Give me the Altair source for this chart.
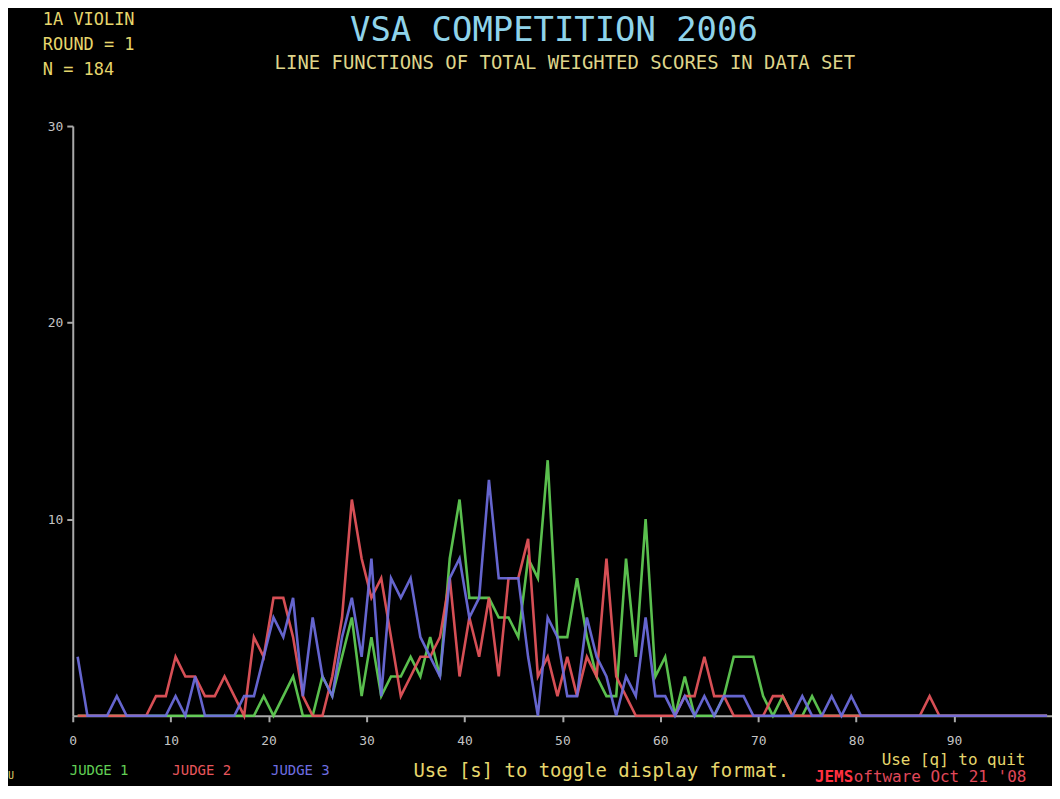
import altair as alt
import pandas as pd

# score bins (bin centres) 0.5 .. 99.5
score_bins = [k + 0.5 for k in range(100)]

judge1 = [
    0, 0, 0, 0, 0, 0, 0, 0, 0, 0,
    0, 0, 0, 0, 0, 0, 0, 0, 0, 1,
    0, 1, 2, 0, 0, 2, 1, 3, 5, 1,
    4, 1, 2, 2, 3, 2, 4, 2, 8, 11,
    6, 6, 6, 5, 5, 4, 8, 7, 13, 4,
    4, 7, 4, 2, 1, 1, 8, 3, 10, 2,
    3, 0, 2, 0, 0, 0, 1, 3, 3, 3,
    1, 0, 1, 0, 0, 1, 0, 0, 0, 0,
    0, 0, 0, 0, 0, 0, 0, 0, 0, 0,
    0, 0, 0, 0, 0, 0, 0, 0, 0, 0,
]
judge2 = [
    0, 0, 0, 0, 0, 0, 0, 0, 1, 1,
    3, 2, 2, 1, 1, 2, 1, 0, 4, 3,
    6, 6, 4, 1, 0, 0, 2, 5, 11, 8,
    6, 7, 4, 1, 2, 3, 3, 4, 7, 2,
    5, 3, 6, 2, 7, 7, 9, 2, 3, 1,
    3, 1, 3, 2, 8, 2, 1, 0, 0, 0,
    0, 0, 1, 1, 3, 1, 1, 0, 0, 0,
    0, 1, 1, 0, 0, 0, 0, 0, 0, 0,
    0, 0, 0, 0, 0, 0, 0, 1, 0, 0,
    0, 0, 0, 0, 0, 0, 0, 0, 0, 0,
]
judge3 = [
    3, 0, 0, 0, 1, 0, 0, 0, 0, 0,
    1, 0, 2, 0, 0, 0, 0, 1, 1, 3,
    5, 4, 6, 1, 5, 2, 1, 4, 6, 3,
    8, 1, 7, 6, 7, 4, 3, 2, 7, 8,
    5, 6, 12, 7, 7, 7, 3, 0, 5, 4,
    1, 1, 5, 3, 2, 0, 2, 1, 5, 1,
    1, 0, 1, 0, 1, 0, 1, 1, 1, 0,
    0, 0, 0, 0, 1, 0, 0, 1, 0, 1,
    0, 0, 0, 0, 0, 0, 0, 0, 0, 0,
    0, 0, 0, 0, 0, 0, 0, 0, 0, 0,
]

judges = ["JUDGE 1", "JUDGE 2", "JUDGE 3"]
judge_colors = ["#62cf55", "#e8565c", "#6e6ee0"]
x_ticks = [0, 10, 20, 30, 40, 50, 60, 70, 80, 90]
y_ticks = [10, 20, 30]

rows = []
for name, vals in zip(judges, [judge1, judge2, judge3]):
    for s, v in zip(score_bins, vals):
        rows.append({"judge": name, "score": s, "count": v})
df = pd.DataFrame(rows)

MONO = "DejaVu Sans Mono"
AX = "#a9a9a9"

lines = alt.Chart(df).mark_line(strokeWidth=2.6, opacity=0.92).encode(
    x=alt.X("score:Q", scale=alt.Scale(domain=[0, 100], nice=False, zero=True),
            axis=alt.Axis(values=x_ticks, title=None, grid=False, domainColor=AX,
                          domainWidth=2, tickColor=AX, tickWidth=2, tickSize=6,
                          labelColor="#c4c4c4", labelFont=MONO, labelFontSize=13,
                          labelPadding=13, labelFlush=False)),
    y=alt.Y("count:Q", scale=alt.Scale(domain=[0, 30], nice=False),
            axis=alt.Axis(values=y_ticks, title=None, grid=False, domainColor=AX,
                          domainWidth=2, tickColor=AX, tickWidth=2, tickSize=6,
                          labelColor="#c4c4c4", labelFont=MONO, labelFontSize=13,
                          labelPadding=4)),
    color=alt.Color("judge:N", scale=alt.Scale(domain=judges, range=judge_colors), legend=None),
    detail="judge:N",
)


def txt(text, x, y, color, size, align="left", weight="normal"):
    return alt.Chart(pd.DataFrame({"t": [text]})).mark_text(
        align=align, baseline="middle", font=MONO, fontSize=size,
        color=color, fontWeight=weight
    ).encode(text="t:N", x=alt.value(x), y=alt.value(y))


YEL = "#e6d66c"
texts = [
    txt("VSA COMPETITION  2006", 483, -95, "#8fd3ea", 34, align="center"),
    txt("LINE FUNCTIONS OF TOTAL WEIGHTED SCORES IN DATA SET", 494, -63, "#ded48a", 19, align="center"),
    txt("1A VIOLIN", -30, -106, YEL, 17),
    txt("ROUND = 1", -30, -81, YEL, 17),
    txt("N = 184", -30, -56, YEL, 17),
    txt("JUDGE 1", -3, 647, judge_colors[0], 14),
    txt("JUDGE 2", 100, 647, judge_colors[1], 14),
    txt("JUDGE 3", 199, 647, judge_colors[2], 14),
    txt("Use [s] to toggle display format.", 342, 647, YEL, 19),
    txt("Use [q] to quit", 812, 636, YEL, 16),
    txt("JEMS", 745, 653, "#ff3040", 16, weight="bold"),
    txt("oftware Oct 21 '08", 784, 653, "#e0485a", 16),
    txt("U", -65, 652, YEL, 10),
]

chart = alt.layer(lines, *texts).properties(
    width=983,
    height=592,
    autosize=alt.AutoSizeParams(type="none"),
    padding={"left": 65, "top": 117, "right": 0, "bottom": 69},
).configure(background="black").configure_view(stroke=None)

chart.save("out.html", embed_options={"renderer": "svg", "actions": False})
